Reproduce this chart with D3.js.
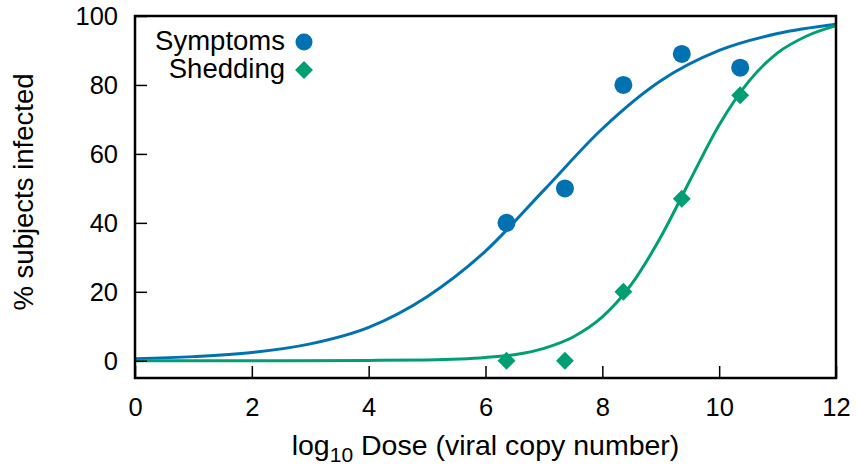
<!DOCTYPE html>
<html>
<head>
<meta charset="utf-8">
<script src="https://cdn.jsdelivr.net/npm/d3@7/dist/d3.min.js"></script>
<style>
  html, body { margin: 0; padding: 0; background: #fff; }
  svg { display: block; font-family: "Liberation Sans", Arial, Helvetica, sans-serif; }
</style>
</head>
<body>
<svg id="chart" width="858" height="467"></svg>
<script>
// ---- data ----
const doses = [6.36, 7.36, 8.36, 9.36, 10.36];
const symptoms = [40, 50, 80, 89, 85];
const shedding = [0, 0, 20, 47, 77];

// fitted curves
const symptomsCurveX = [0, 1, 2, 3, 4, 5, 6, 7, 8, 9, 10, 11, 12];
const symptomsCurveY = [0.6, 1.2, 2.4, 4.9, 9.7, 18.6, 31.8, 49.5, 67.3, 81.2, 90.0, 94.9, 97.6];
const sheddingCurveX = [0, 2, 4, 5, 6, 7, 7.5, 8, 8.5, 9, 9.5, 10, 10.5, 11, 11.5, 12];
const sheddingCurveY = [0, 0, 0.1, 0.25, 0.95, 3.6, 6.9, 12.7, 22.2, 35.9, 52.3, 68.4, 80.9, 89.3, 94.2, 97.2];

const xTicks = [0, 2, 4, 6, 8, 10, 12];
const yTicks = [0, 20, 40, 60, 80, 100];
const seriesNames = ["Symptoms", "Shedding"];
const colors = ["#0072b2", "#009e73"];

// ---- layout ----
const svg = d3.select("#chart");
const mLeft = 135, mRight = 836, mTop = 16, mBottom = 378;
const x = d3.scaleLinear().domain([0, 12]).range([mLeft, mRight]);
const y = d3.scaleLinear().domain([-5, 100]).range([mBottom, mTop]);

const fontSize = 25.5;

// curves
const line = d3.line().x(d => x(d[0])).y(d => y(d[1])).curve(d3.curveMonotoneX);
const plot = svg.append("g");
plot.append("path")
  .datum(symptomsCurveX.map((v, i) => [v, symptomsCurveY[i]]))
  .attr("d", line).attr("fill", "none").attr("stroke", colors[0]).attr("stroke-width", 3);
plot.append("path")
  .datum(sheddingCurveX.map((v, i) => [v, sheddingCurveY[i]]))
  .attr("d", line).attr("fill", "none").attr("stroke", colors[1]).attr("stroke-width", 3);

// points
plot.selectAll("circle.sym").data(doses.map((d, i) => [d, symptoms[i]]))
  .join("circle").attr("class", "sym")
  .attr("cx", d => x(d[0])).attr("cy", d => y(d[1])).attr("r", 9)
  .attr("fill", colors[0]);
const diamond = d3.symbol().type(d3.symbolSquare).size(160);
plot.selectAll("path.shed").data(doses.map((d, i) => [d, shedding[i]]))
  .join("path").attr("class", "shed")
  .attr("d", diamond)
  .attr("transform", d => `translate(${x(d[0])},${y(d[1])}) rotate(45)`)
  .attr("fill", colors[1]);

// axes (ticks inward)
const xAxis = d3.axisBottom(x).tickValues(xTicks).tickSize(-12).tickPadding(0).tickFormat(d3.format("d"));
const gx = svg.append("g").attr("transform", `translate(0,${mBottom})`).call(xAxis);
gx.select(".domain").remove();
gx.selectAll(".tick line").attr("stroke", "#000").attr("stroke-width", 1.5);
gx.selectAll(".tick text").attr("font-size", fontSize).attr("fill", "#000")
  .attr("dy", null).attr("y", 38).attr("font-family", "Liberation Sans, Arial, sans-serif");

const yAxis = d3.axisLeft(y).tickValues(yTicks).tickSize(-12).tickPadding(0).tickFormat(d3.format("d"));
const gy = svg.append("g").attr("transform", `translate(${mLeft},0)`).call(yAxis);
gy.select(".domain").remove();
gy.selectAll(".tick line").attr("stroke", "#000").attr("stroke-width", 1.5);
gy.selectAll(".tick text").attr("font-size", fontSize).attr("fill", "#000")
  .attr("x", -17).attr("dy", "0.35em").attr("font-family", "Liberation Sans, Arial, sans-serif");

// frame
svg.append("rect").attr("x", mLeft).attr("y", mTop)
  .attr("width", mRight - mLeft).attr("height", mBottom - mTop)
  .attr("fill", "none").attr("stroke", "#000").attr("stroke-width", 2.5);

// axis titles
const xt = svg.append("text").attr("x", (mLeft + mRight) / 2).attr("y", 455)
  .attr("text-anchor", "middle").attr("font-size", 28.5).attr("fill", "#000");
xt.append("tspan").text("log");
xt.append("tspan").text("10").attr("font-size", 21).attr("dy", 7);
xt.append("tspan").text(" Dose (viral copy number)").attr("dy", -7);

svg.append("text")
  .attr("transform", `translate(33,${(mTop + mBottom) / 2 - 5}) rotate(-90)`)
  .attr("text-anchor", "middle").attr("font-size", 27.5).attr("fill", "#000")
  .text("% subjects infected");

// legend
const legend = svg.append("g");
const legY = [50, 78];
seriesNames.forEach((name, i) => {
  legend.append("text").attr("x", 285).attr("y", legY[i])
    .attr("text-anchor", "end").attr("font-size", 27.5).attr("fill", "#000").text(name);
});
legend.append("circle").attr("cx", 304).attr("cy", 42).attr("r", 8.5).attr("fill", colors[0]);
legend.append("path").attr("d", diamond)
  .attr("transform", "translate(304,70) rotate(45)").attr("fill", colors[1]);
</script>
</body>
</html>
